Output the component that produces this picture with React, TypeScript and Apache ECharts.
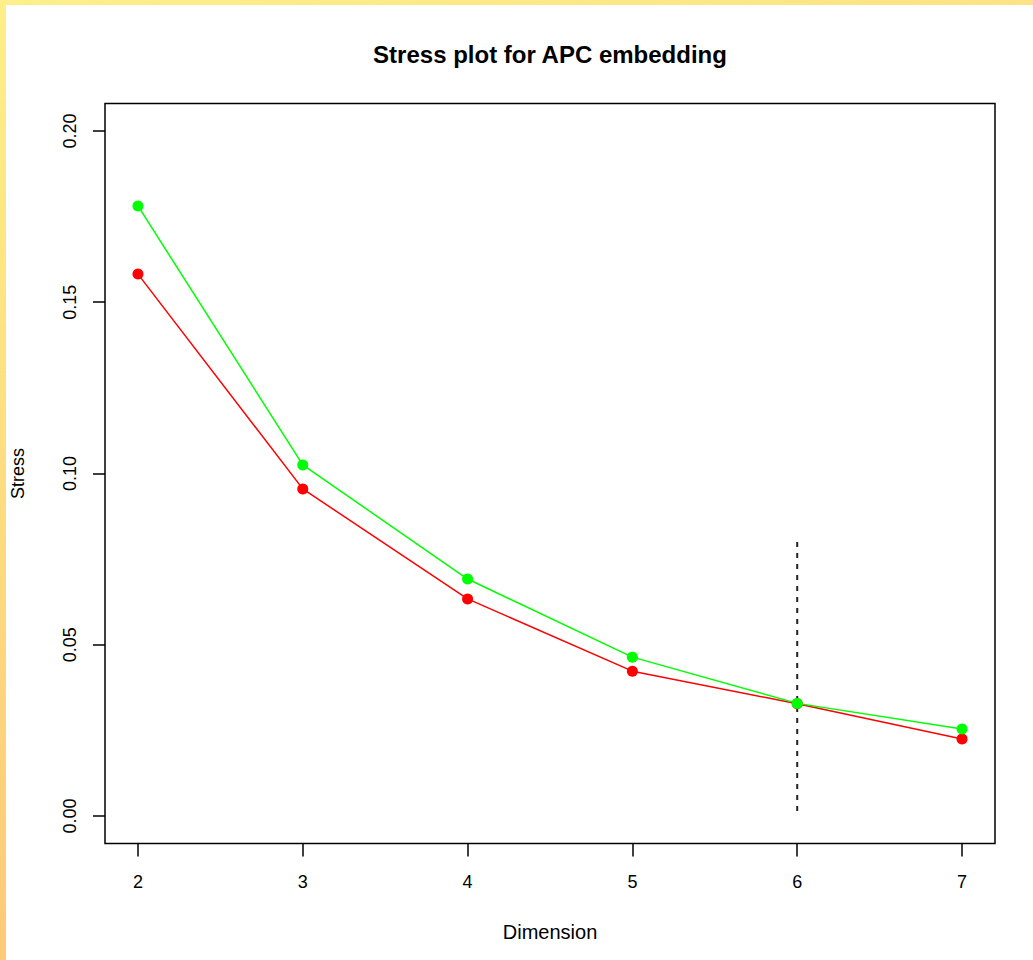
import React, { useEffect, useRef } from "react";
import * as echarts from "echarts";

// Embedding dimension and stress values per dimension
const dimensions = [2, 3, 4, 5, 6, 7];
const stressRed = [0.1582, 0.0955, 0.0634, 0.0423, 0.0328, 0.0225];
const stressGreen = [0.1781, 0.1025, 0.0692, 0.0464, 0.0329, 0.0254];

// Chosen dimension marker (vertical dashed line)
const chosenDimension = 6;
const markerTop = 0.08;
const markerBottom = 0;

const xTicks = [2, 3, 4, 5, 6, 7];
const yTicks = [0, 0.05, 0.1, 0.15, 0.2];
const yTickLabels = ["0.00", "0.05", "0.10", "0.15", "0.20"];

const FONT = "'Liberation Sans', Arial, Helvetica, sans-serif";

export default function App() {
  const ref = useRef<HTMLDivElement>(null);

  useEffect(() => {
    if (!ref.current) return;
    const chart = echarts.init(ref.current, undefined, { renderer: "svg" });

    const pairs = (ys: number[]) => dimensions.map((d, i) => [d, ys[i]]);

    chart.setOption({
      animation: false,
      backgroundColor: "#ffffff",
      grid: {
        left: 105,
        top: 103.5,
        width: 890,
        height: 740,
        show: true,
        borderColor: "#000000",
        borderWidth: 1.5,
        backgroundColor: "transparent",
      },
      graphic: [
        {
          type: "rect",
          shape: { x: 0, y: 0, width: 6, height: 960 },
          style: {
            fill: new echarts.graphic.LinearGradient(0, 0, 0, 1, [
              { offset: 0, color: "#fdef89" },
              { offset: 1, color: "#fdca77" },
            ]),
          },
          z: 100,
        },
        {
          type: "rect",
          shape: { x: 0, y: 0, width: 1033, height: 5 },
          style: {
            fill: new echarts.graphic.LinearGradient(0, 0, 1, 0, [
              { offset: 0, color: "#fdef89" },
              { offset: 1, color: "#fde385" },
            ]),
          },
          z: 100,
        },
        {
          type: "text",
          x: 550,
          y: 54,
          style: {
            text: "Stress plot for APC embedding",
            font: `bold 24px ${FONT}`,
            fill: "#000",
            align: "center",
            verticalAlign: "middle",
          },
        },
      ],
      xAxis: {
        type: "value",
        position: "bottom",
        min: 1.8,
        max: 7.2,
        name: "Dimension",
        nameLocation: "middle",
        nameGap: 78,
        nameTextStyle: { fontFamily: FONT, fontSize: 20, color: "#000" },
        splitLine: { show: false },
        axisLine: { show: false, onZero: false },
        axisTick: {
          show: true,
          length: 13,
          customValues: xTicks,
          lineStyle: { color: "#000", width: 1.5 },
        },
        axisLabel: {
          customValues: xTicks,
          fontFamily: FONT,
          fontSize: 18,
          color: "#000",
          margin: 29,
          formatter: (v: number) => String(v),
        },
      },
      yAxis: {
        type: "value",
        position: "left",
        min: -0.008,
        max: 0.208,
        name: "Stress",
        nameLocation: "middle",
        nameGap: 78,
        nameRotate: 90,
        nameTextStyle: { fontFamily: FONT, fontSize: 18, color: "#000" },
        splitLine: { show: false },
        axisLine: { show: false, onZero: false },
        axisTick: {
          show: true,
          length: 12,
          customValues: yTicks,
          lineStyle: { color: "#000", width: 1.5 },
        },
        axisLabel: {
          customValues: yTicks,
          rotate: 90,
          fontFamily: FONT,
          fontSize: 18,
          color: "#000",
          margin: 26,
          formatter: (v: number) => {
            const i = yTicks.findIndex((t) => Math.abs(t - v) < 1e-9);
            return i >= 0 ? yTickLabels[i] : "";
          },
        },
      },
      series: [
        {
          name: "marker",
          type: "line",
          data: [
            [chosenDimension, markerTop],
            [chosenDimension, markerBottom],
          ],
          symbol: "none",
          lineStyle: { color: "#222", width: 2, type: [5, 6] },
          z: 1,
        },
        {
          name: "stress1",
          type: "line",
          data: pairs(stressRed),
          symbol: "circle",
          symbolSize: 11,
          itemStyle: { color: "#ff0000" },
          lineStyle: { color: "#ff0000", width: 1.5 },
          z: 2,
        },
        {
          name: "stress2",
          type: "line",
          data: pairs(stressGreen),
          symbol: "circle",
          symbolSize: 11,
          itemStyle: { color: "#00ff00" },
          lineStyle: { color: "#00ff00", width: 1.5 },
          z: 3,
        },
      ],
    });

    return () => chart.dispose();
  }, []);

  return (
    <div
      ref={ref}
      style={{
        position: "absolute",
        left: 0,
        top: 0,
        width: 1033,
        height: 960,
        background: "#fff",
      }}
    />
  );
}
